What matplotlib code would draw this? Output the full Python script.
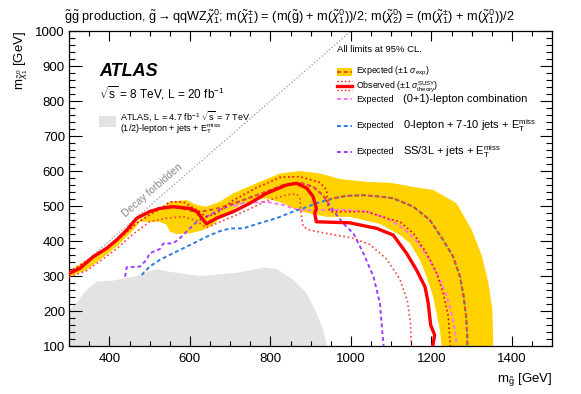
import matplotlib.pyplot as plt
import numpy as np
from matplotlib.ticker import MultipleLocator

plt.rcParams["font.family"] = ["Liberation Sans", "DejaVu Sans"]
plt.rcParams["mathtext.fontset"] = "custom"
plt.rcParams["mathtext.rm"] = "Liberation Sans"
plt.rcParams["mathtext.it"] = "Liberation Sans:italic"
plt.rcParams["mathtext.bf"] = "Liberation Sans:bold"

# ---- data (m_gluino, m_LSP) in GeV ----
# ATLAS 7 TeV excluded region
old_x = [300, 300, 318, 339, 368, 410, 468, 517, 550, 625, 716, 782, 815, 857, 890, 915, 931, 940, 940]
old_y = [100, 203, 222, 255, 284, 287, 300, 320, 312, 300, 309, 324, 320, 289, 250, 193, 146, 103, 100]

# expected +-1 sigma band edges
band_up_x = [300, 343, 384, 426, 468, 500, 534, 550, 592, 617, 641, 674, 707, 765, 824, 873, 923, 973, 1039,
             1100, 1163, 1204, 1262, 1300, 1325, 1341, 1351, 1353, 1353]
band_up_y = [312, 346, 374, 412, 455, 479, 498, 512, 517, 503, 498, 512, 536, 565, 593, 600, 593, 577, 569,
             566, 553, 546, 508, 432, 358, 282, 208, 140, 100]
band_lo_x = [300, 343, 376, 418, 459, 476, 525, 542, 550, 567, 600, 633, 658, 674, 732, 790, 832, 865, 900,
             940, 997, 1072, 1122, 1147, 1171, 1188, 1204, 1213, 1221, 1225]
band_lo_y = [298, 317, 346, 384, 431, 455, 455, 446, 427, 420, 422, 431, 446, 465, 508, 522, 508, 489, 478,
             469, 469, 449, 417, 393, 346, 298, 241, 193, 146, 100]

# expected combined limit
exp_x = [300, 327, 360, 393, 418, 443, 468, 500, 525, 550, 580, 610, 641, 674, 732, 790, 832, 873, 906, 930,
         940, 956, 989, 1031, 1072, 1105, 1155, 1196, 1229, 1254, 1271, 1280, 1286, 1289, 1289]
exp_y = [310, 324, 357, 381, 405, 433, 467, 486, 494, 498, 493, 484, 486, 495, 517, 541, 560, 567, 555, 531,
         515, 522, 529, 531, 527, 522, 498, 460, 403, 355, 298, 241, 184, 127, 100]

# observed limit and +-1 sigma theory
obs_x = [301, 327, 360, 393, 418, 443, 468, 500, 525, 558, 600, 617, 641, 666, 708, 749, 790, 840, 865, 890,
         906, 914, 910, 914, 997, 1064, 1105, 1138, 1163, 1184, 1192, 1198, 1208, 1203]
obs_y = [308, 322, 355, 379, 403, 431, 465, 484, 493, 498, 493, 484, 449, 465, 484, 508, 536, 560, 565, 551,
         527, 493, 479, 455, 452, 436, 417, 365, 317, 269, 222, 160, 131, 100]
obs_up_x = [300, 343, 384, 426, 468, 500, 534, 550, 583, 617, 641, 666, 707, 765, 824, 873, 923, 940, 940,
            948, 1039, 1097, 1122, 1155, 1188, 1213, 1229, 1242, 1245, 1247]
obs_up_y = [312, 343, 371, 408, 451, 475, 498, 512, 512, 489, 469, 479, 516, 552, 582, 584, 567, 545, 510,
            484, 484, 462, 455, 422, 365, 308, 251, 184, 127, 100]
obs_lo_x = [300, 343, 376, 418, 459, 500, 541, 583, 617, 641, 666, 707, 749, 790, 840, 865, 873, 876, 881,
            898, 956, 1000, 1047, 1089, 1122, 1140, 1148, 1150]
obs_lo_y = [297, 315, 342, 378, 420, 455, 465, 470, 458, 438, 450, 470, 492, 515, 532, 535, 522, 480, 441,
            431, 418, 410, 390, 348, 290, 230, 165, 100]

# individual analyses (expected)
comb01_x = [710, 732, 790, 832, 865, 900, 940, 981, 1039, 1089, 1131, 1163, 1196, 1221, 1238, 1250, 1258, 1263]
comb01_y = [500, 508, 512, 503, 490, 488, 489, 489, 484, 465, 436, 400, 346, 289, 241, 193, 146, 100]
zero_x = [480, 500, 525, 558, 608, 641, 674, 700, 732, 773, 815, 856, 881, 914, 956, 989, 1031, 1072, 1105,
          1155, 1196, 1229, 1254, 1271, 1280, 1286, 1289, 1289]
zero_y = [303, 327, 346, 365, 393, 412, 428, 436, 436, 451, 465, 484, 493, 508, 522, 529, 531, 527, 522,
          498, 460, 403, 355, 298, 241, 184, 127, 100]
ss3l_x = [439, 443, 476, 492, 500, 525, 534, 558, 575, 592, 617, 641, 674, 732, 790, 832, 873, 906, 930, 955,
          980, 1006, 1031, 1056, 1072, 1076, 1081]
ss3l_y = [298, 325, 327, 346, 365, 377, 393, 393, 408, 427, 455, 470, 489, 517, 541, 560, 567, 555, 531, 489,
          451, 422, 365, 298, 222, 165, 100]

diag = [300, 1000]

yellow = "#ffd200"
red = "#ff0000"
exp_col = "#f04a1a"
pink = "#ff70ff"
blue = "#2a7be8"
purple = "#9b40ff"

fig = plt.figure(figsize=(5.81, 3.94), dpi=100)
ax = fig.add_axes([0.119, 0.1218, 0.8315, 0.7995])

ax.fill(old_x, old_y, color="#e3e3e3", lw=0, zorder=1)
ax.plot(diag, diag, color="#999999", ls=":", lw=0.9, zorder=1)
ax.fill(band_up_x + band_lo_x[::-1], band_up_y + band_lo_y[::-1], color=yellow, lw=0, zorder=2)

ax.plot(comb01_x, comb01_y, color=pink, lw=1.4, dashes=(2, 1.5), zorder=3)
ax.plot(zero_x, zero_y, color=blue, lw=1.4, dashes=(2, 1.5), zorder=3)
ax.plot(ss3l_x, ss3l_y, color=purple, lw=1.4, dashes=(2, 1.5), zorder=3)
ax.plot(exp_x, exp_y, color=exp_col, lw=1.4, dashes=(2, 1.5), dash_capstyle="butt", zorder=4)

ax.plot(obs_up_x, obs_up_y, color=red, lw=1.2, ls=":", zorder=5)
ax.plot(obs_lo_x, obs_lo_y, color="#ff4040", lw=1.2, ls=":", zorder=5)
ax.plot(obs_x, obs_y, color=red, lw=2.4, zorder=6)

ax.text(507, 545, "Decay forbidden", rotation=41, color="#888888", fontsize=7.5,
        ha="center", va="center", rotation_mode="anchor")

ax.set_xlim(300, 1500)
ax.set_ylim(100, 1000)
ax.xaxis.set_major_locator(MultipleLocator(200))
ax.xaxis.set_minor_locator(MultipleLocator(50))
ax.yaxis.set_major_locator(MultipleLocator(100))
ax.yaxis.set_minor_locator(MultipleLocator(20))
ax.tick_params(which="both", direction="in", top=True, right=True, labelsize=9.5, width=0.8)
ax.tick_params(axis="x", which="major", length=7, pad=5)
ax.tick_params(axis="x", which="minor", length=3.5)
ax.tick_params(axis="y", which="major", length=9, pad=3)
ax.tick_params(axis="y", which="minor", length=4.5)
for s in ax.spines.values():
    s.set_linewidth(0.9)

ax.set_xlabel(r"m$_{\tilde{\mathrm{g}}}$ [GeV]", loc="right", fontsize=9.5, labelpad=4)
ax.set_ylabel(r"m$_{\tilde{\chi}^0_1}$ [GeV]", loc="top", fontsize=9.5, labelpad=4)

fig.text(0.497, 0.958,
         r"$\tilde{\mathrm{g}}\tilde{\mathrm{g}}$ production, $\tilde{\mathrm{g}}\rightarrow\mathrm{qqWZ}\tilde{\chi}^0_1$; "
         r"m($\tilde{\chi}^{\pm}_1$) = (m($\tilde{\mathrm{g}}$) + m($\tilde{\chi}^0_1$))/2; "
         r"m($\tilde{\chi}^0_2$) = (m($\tilde{\chi}^{\pm}_1$) + m($\tilde{\chi}^0_1$))/2",
         ha="center", va="center", fontsize=9.2)

# labels in the upper left
ax.text(0.062, 0.871, "ATLAS", transform=ax.transAxes, fontsize=13, fontweight="bold",
        fontstyle="italic", va="center")
ax.text(0.062, 0.803, r"$\sqrt{\mathrm{s}}$ = 8 TeV, L = 20 fb$^{-1}$", transform=ax.transAxes,
        fontsize=8.5, va="center")
ax.add_patch(plt.Rectangle((0.062, 0.694), 0.036, 0.036, transform=ax.transAxes,
                           color="#e3e3e3", lw=0))
ax.text(0.105, 0.730, r"ATLAS, L = 4.7 fb$^{-1}$ $\sqrt{\mathrm{s}}$ = 7 TeV", transform=ax.transAxes,
        fontsize=6.5, va="center")
ax.text(0.105, 0.689, r"(1/2)-lepton + jets + E$_{\mathrm{T}}^{\mathrm{miss}}$", transform=ax.transAxes,
        fontsize=6.5, va="center")

# legend on the right
tr = ax.transAxes
x0, x1, xt, xt2 = 0.554, 0.585, 0.594, 0.691
ax.text(x0, 0.94, "All limits at 95% CL.", transform=tr, fontsize=6.8, va="center")

ax.add_patch(plt.Rectangle((x0, 0.858), x1 - x0, 0.024, transform=tr, color=yellow, lw=0))
ax.plot([x0, x1], [0.870, 0.870], transform=tr, color=exp_col, lw=1.4, dashes=(2, 1.5))
ax.text(xt, 0.872, r"Expected ($\pm$1 $\sigma_{\mathrm{exp}}$)", transform=tr, fontsize=6.3, va="center")

ax.plot([x0, x1], [0.826, 0.826], transform=tr, color=red, lw=2.4)
ax.plot([x0, x1], [0.840, 0.840], transform=tr, color=red, lw=1.0, ls=":")
ax.plot([x0, x1], [0.812, 0.812], transform=tr, color=red, lw=1.0, ls=":")
ax.text(xt, 0.823, r"Observed ($\pm$1 $\sigma^{\mathrm{SUSY}}_{\mathrm{theory}}$)", transform=tr,
        fontsize=6.3, va="center")

for yy, col, lab in [(0.783, pink, "(0+1)-lepton combination"),
                     (0.700, blue, r"0-lepton + 7-10 jets + E$_{\mathrm{T}}^{\mathrm{miss}}$"),
                     (0.617, purple, r"SS/3L + jets + E$_{\mathrm{T}}^{\mathrm{miss}}$")]:
    ax.plot([x0, x1], [yy, yy], transform=tr, color=col, lw=1.4, dashes=(2, 1.5))
    ax.text(xt, yy, "Expected", transform=tr, fontsize=6.5, va="center")
    ax.text(xt2, yy, lab, transform=tr, fontsize=8, va="center")

fig.savefig("out.png", dpi=100)
